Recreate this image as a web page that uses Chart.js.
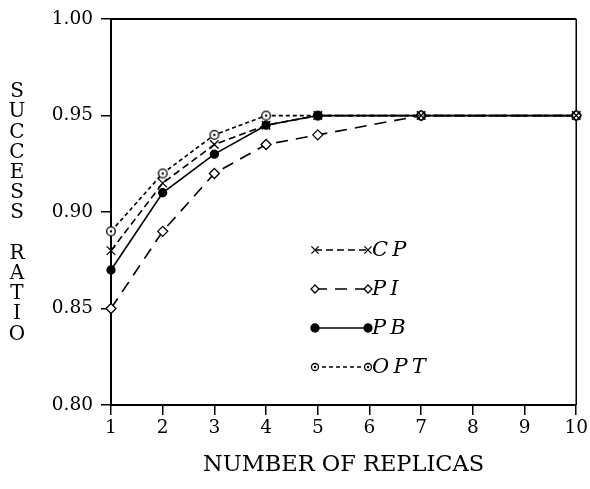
<!DOCTYPE html>
<html>
<head>
<meta charset="utf-8">
<script src="https://cdn.jsdelivr.net/npm/chart.js@4/dist/chart.umd.min.js"></script>
<style>
  html, body { margin: 0; padding: 0; background: #fff; }
  #wrap { width: 590px; height: 489px; }
</style>
</head>
<body>
<div id="wrap"><canvas id="ratio"></canvas></div>
<script>
// success ratio against the number of replicas, four policies
const replicas = [1, 2, 3, 4, 5, 7, 10]
const cp  = [0.88, 0.915, 0.935, 0.945, 0.95, 0.95, 0.95]
const pi  = [0.85, 0.89, 0.92, 0.935, 0.94, 0.95, 0.95]
const pb  = [0.87, 0.91, 0.93, 0.945, 0.95, 0.95, 0.95]
const opt = [0.89, 0.92, 0.94, 0.95, 0.95, 0.95, 0.95]

const xTicks = [1, 2, 3, 4, 5, 6, 7, 8, 9, 10]
const yTicks = [0.80, 0.85, 0.90, 0.95, 1.00]
const yTitle = 'SUCCESS RATIO'
const xTitle = 'NUMBER OF REPLICAS'

// open circle with a dot in the middle
function dottedCircle(size, r) {
    const c = document.createElement('canvas')
    c.width = size
    c.height = size
    const g = c.getContext('2d')
    const m = size / 2
    g.fillStyle = '#fff'
    g.strokeStyle = '#000'
    g.lineWidth = 1.3
    g.beginPath()
    g.arc(m, m, r, 0, Math.PI * 2)
    g.fill()
    g.stroke()
    g.fillStyle = '#000'
    g.beginPath()
    g.arc(m, m, 1.2, 0, Math.PI * 2)
    g.fill()
    return c
}
const optMarker = dottedCircle(12, 4.3)
const optKeyMarker = dottedCircle(10, 3.5)

function points(ys) {
    return replicas.map((x, i) => ({x: x, y: ys[i]}))
}

function series(label, ys, style, dash, radius, fill) {
    return {
        label: label,
        data: points(ys),
        borderColor: '#000',
        backgroundColor: fill,
        borderWidth: 1.6,
        borderDash: dash,
        pointStyle: style,
        pointRadius: radius,
        pointBorderWidth: 1.3,
        pointBorderColor: '#000',
        pointBackgroundColor: fill,
        tension: 0,
        clip: false
    }
}

// key markers are drawn a little smaller than the plotted ones
function drawMarker(ctx, ds, x, y) {
    const r = ds.pointRadius * 0.8
    ctx.save()
    ctx.setLineDash([])
    ctx.strokeStyle = '#000'
    ctx.fillStyle = ds.pointBackgroundColor
    ctx.lineWidth = ds.pointBorderWidth
    if (ds.pointStyle === 'crossRot') {
        ctx.beginPath()
        ctx.moveTo(x - r * 0.75, y - r * 0.75); ctx.lineTo(x + r * 0.75, y + r * 0.75)
        ctx.moveTo(x - r * 0.75, y + r * 0.75); ctx.lineTo(x + r * 0.75, y - r * 0.75)
        ctx.stroke()
    } else if (ds.pointStyle === 'rectRot') {
        ctx.beginPath()
        ctx.moveTo(x, y - r); ctx.lineTo(x + r, y); ctx.lineTo(x, y + r); ctx.lineTo(x - r, y)
        ctx.closePath()
        ctx.fill()
        ctx.stroke()
    } else if (ds.pointStyle === 'circle') {
        ctx.beginPath()
        ctx.arc(x, y, ds.pointRadius, 0, Math.PI * 2)
        ctx.fill()
        ctx.stroke()
    } else {
        ctx.drawImage(optKeyMarker, x - 5, y - 5, 10, 10)
    }
    ctx.restore()
}

// box edges, stacked y title and the in-plot key
const framePlugin = {
    id: 'frame',
    beforeDatasetsDraw(chart) {
        const {ctx, chartArea: a} = chart
        ctx.save()
        ctx.strokeStyle = '#000'
        ctx.lineWidth = 2
        ctx.beginPath()
        ctx.moveTo(a.left, a.top)
        ctx.lineTo(a.right, a.top)
        ctx.stroke()
        ctx.lineWidth = 1.5
        ctx.beginPath()
        ctx.moveTo(a.right, a.top)
        ctx.lineTo(a.right, a.bottom)
        ctx.stroke()

        ctx.fillStyle = '#000'
        ctx.font = '20px "DejaVu Serif"'
        ctx.textAlign = 'center'
        ctx.textBaseline = 'middle'
        yTitle.split('').forEach(function (ch, i) {
            if (ch !== ' ') ctx.fillText(ch, 17, 92 + i * 20.2)
        })
        ctx.restore()
    },
    afterDraw(chart) {
        const ctx = chart.ctx
        const x0 = 315, x1 = 368
        const rows = [250, 289, 328, 367]
        ctx.save()
        chart.data.datasets.forEach(function (ds, i) {
            const y = rows[i]
            ctx.strokeStyle = '#000'
            ctx.lineWidth = ds.borderWidth
            ctx.setLineDash(ds.borderDash)
            ctx.beginPath()
            ctx.moveTo(x0, y)
            ctx.lineTo(x1, y)
            ctx.stroke()
            drawMarker(ctx, ds, x0, y)
            drawMarker(ctx, ds, x1, y)
            ctx.fillStyle = '#000'
            ctx.font = 'italic 21px "DejaVu Serif"'
            ctx.textAlign = 'left'
            ctx.textBaseline = 'middle'
            ctx.fillText(ds.label.split('').join('\u2009'), x1 + 4, y + 1)
        })
        ctx.restore()
    }
}

new Chart(document.getElementById('ratio'), {
    type: 'line',
    data: {
        datasets: [
            series('CP', cp, 'crossRot', [7, 4], 6, '#000'),
            series('PI', pi, 'rectRot', [12, 8], 5, '#fff'),
            series('PB', pb, 'circle', [], 4, '#000'),
            series('OPT', opt, optMarker, [4, 3], 6, '#fff')
        ]
    },
    options: {
        responsive: true,
        maintainAspectRatio: false,
        animation: false,
        layout: {padding: {top: 15, right: 13, left: 0, bottom: 0}},
        plugins: {legend: {display: false}, tooltip: {enabled: false}},
        scales: {
            x: {
                type: 'linear',
                min: 1,
                max: 10,
                afterBuildTicks: s => { s.ticks = xTicks.map(v => ({value: v})) },
                afterFit: s => { s.height = 84 },
                grid: {drawOnChartArea: false, color: '#000', lineWidth: 1.5, tickLength: 10},
                border: {display: true, color: '#000', width: 2},
                ticks: {color: '#000', padding: 2, maxRotation: 0, font: {family: 'DejaVu Serif', size: 18.5}},
                title: {display: true, text: xTitle, color: '#000', padding: {top: 0, bottom: 10},
                        font: {family: 'DejaVu Serif', size: 22.5}}
            },
            y: {
                min: 0.8,
                max: 1.0,
                afterBuildTicks: s => { s.ticks = yTicks.map(v => ({value: v})) },
                afterFit: s => { s.width = 111 },
                grid: {drawOnChartArea: false, color: '#000', lineWidth: 1.5, tickLength: 10},
                border: {display: true, color: '#000', width: 2},
                ticks: {color: '#000', padding: 8, callback: v => v.toFixed(2),
                        font: {family: 'DejaVu Serif', size: 18.5}}
            }
        }
    },
    plugins: [framePlugin]
})
</script>
</body>
</html>
